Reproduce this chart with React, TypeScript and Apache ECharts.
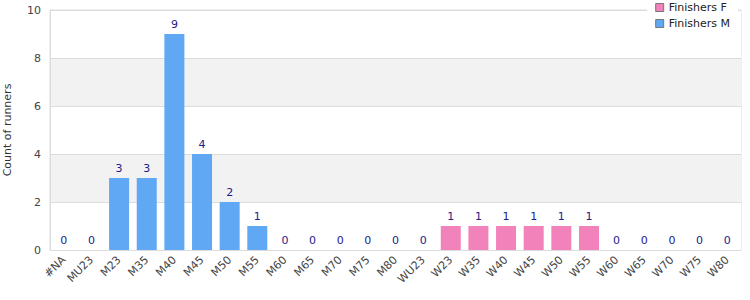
import React, { useEffect, useRef } from "react";
import * as echarts from "echarts";

const categories = ["#NA","MU23","M23","M35","M40","M45","M50","M55","M60","M65","M70","M75","M80","WU23","W23","W35","W40","W45","W50","W55","W60","W65","W70","W75","W80"];
const finishersM: (number | string)[] = [0,0,3,3,9,4,2,1,0,0,0,0,0,"-","-","-","-","-","-","-","-","-","-","-","-"];
const finishersF: (number | string)[] = ["-","-","-","-","-","-","-","-","-","-","-","-","-",0,1,1,1,1,1,1,0,0,0,0,0];
const yTicks = [0, 2, 4, 6, 8, 10];

export default function App() {
  const ref = useRef<HTMLDivElement>(null);
  useEffect(() => {
    const chart = echarts.init(ref.current!, null, { renderer: "svg" });
    const font = "DejaVu Sans";
    const label = { show: true, position: "top", distance: 4, color: "#1c1c8a", fontSize: 11, fontFamily: font };
    chart.setOption({
      animation: false,
      textStyle: { fontFamily: font },
      grid: { left: 50, right: 9, top: 10, bottom: 50, outerBoundsMode: "none", containLabel: false, show: true, borderColor: "#dcdcdc", borderWidth: 1, backgroundColor: "transparent" },
      legend: {
        orient: "vertical",
        right: 12,
        top: 0,
        padding: [2, 8, 4, 8],
        backgroundColor: "#fff",
        itemWidth: 8,
        itemHeight: 8,
        itemGap: 5,
        icon: "rect",
        textStyle: { color: "#222", fontSize: 11, fontFamily: font },
        data: [
          { name: "Finishers F", itemStyle: { borderColor: "#777", borderWidth: 1 } },
          { name: "Finishers M", itemStyle: { borderColor: "#777", borderWidth: 1 } },
        ],
      },
      xAxis: {
        type: "category",
        data: categories,
        axisLine: { lineStyle: { color: "#dcdcdc" } },
        axisTick: { show: false },
        axisLabel: { rotate: 45, color: "#444", fontSize: 11, fontFamily: font, interval: 0, margin: 8 },
      },
      yAxis: {
        type: "value",
        min: yTicks[0],
        max: yTicks[yTicks.length - 1],
        interval: 2,
        name: "Count of runners",
        nameLocation: "middle",
        nameGap: 37,
        nameTextStyle: { color: "#333", fontSize: 11, fontFamily: font },
        axisLine: { show: true, lineStyle: { color: "#dcdcdc" } },
        axisTick: { show: false },
        axisLabel: { color: "#444", fontSize: 11, fontFamily: font, margin: 9 },
        splitLine: { show: true, lineStyle: { color: "#dcdcdc" } },
        splitArea: { show: true, areaStyle: { color: ["#ffffff", "#f2f2f2"] } },
      },
      series: [
        {
          name: "Finishers F",
          type: "bar",
          stack: "total",
          data: finishersF,
          barWidth: 20,
          itemStyle: { color: "#f282ba" },
          label,
        },
        {
          name: "Finishers M",
          type: "bar",
          stack: "total",
          data: finishersM,
          barWidth: 20,
          itemStyle: { color: "#60a8f4" },
          label,
        },
      ],
    });
    return () => chart.dispose();
  }, []);
  return <div ref={ref} style={{ width: 750, height: 300, position: "absolute", left: 0, top: 0 }} />;
}
